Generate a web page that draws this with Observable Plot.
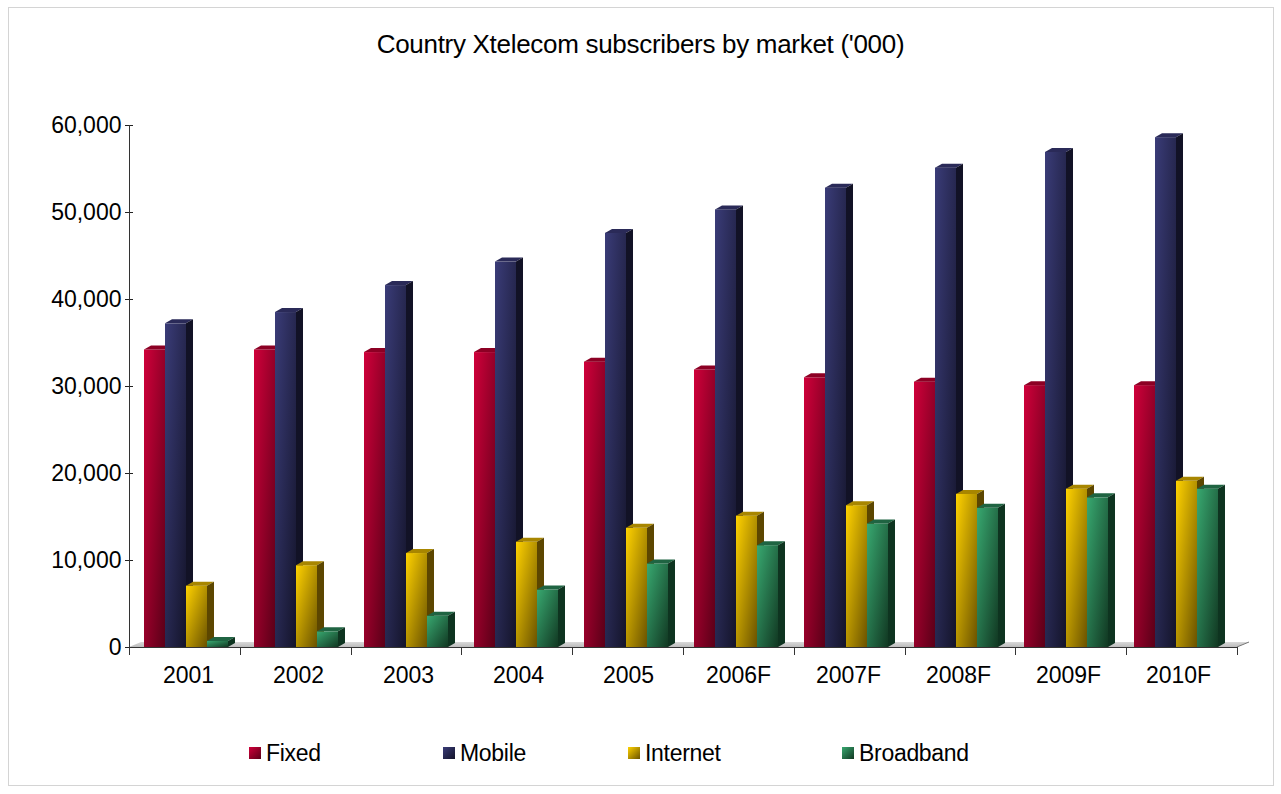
<!DOCTYPE html>
<html>
<head>
<meta charset="utf-8">
<script src="https://cdn.jsdelivr.net/npm/d3@7"></script>
<script src="https://cdn.jsdelivr.net/npm/@observablehq/plot@0.6"></script>
<style>
html,body{margin:0;padding:0;background:#fff;}
body{width:1281px;height:794px;position:relative;overflow:hidden;font-family:"Liberation Sans",Arial,sans-serif;color:#000;}
#frame{position:absolute;left:8px;top:7px;width:1266px;height:779px;border:1px solid #d4d4d4;box-sizing:border-box;}
#title{position:absolute;left:0;width:1281px;top:29px;text-align:center;font-size:26px;line-height:30px;letter-spacing:-0.3px;}
#chart{position:absolute;left:0;top:100px;}
#legend{position:absolute;top:739px;left:0;width:1281px;height:28px;font-size:23px;}
.item{position:absolute;top:0;height:28px;display:flex;align-items:center;white-space:nowrap;letter-spacing:-0.3px;}
.sw{width:12px;height:12px;margin-right:5px;}
</style>
</head>
<body>
<div id="frame"></div>
<div id="title">Country Xtelecom subscribers by market ('000)</div>
<div id="chart"></div>
<div id="legend"></div>
<script>
// ---- data ----
const years = ["2001","2002","2003","2004","2005","2006F","2007F","2008F","2009F","2010F"];
const series = ["Fixed","Mobile","Internet","Broadband"];
const fixed     = [34200,34200,33900,33900,32800,31900,31000,30500,30100,30100];
const mobile    = [37200,38500,41600,44300,47600,50300,52800,55100,56900,58600];
const internet  = [7050,9400,10800,12100,13700,15100,16300,17600,18200,19100];
const broadband = [700,1800,3600,6600,9600,11700,14200,16000,17200,18200];
const yTicks = [0,10000,20000,30000,40000,50000,60000];

// ---- styles ----
const frontLight = ["#d0003a","#3a3c78","#ffd200","#38a870"];
const frontDark  = ["#5a0018","#14142a","#6a5200","#113822"];
const topColor   = ["#8c0024","#2a2a58","#a88600","#1f6442"];
const sideColor  = ["#520016","#121226","#5c4600","#0e3420"];
const legendX = [249,443,628,842];

const valuesBySeries = [fixed, mobile, internet, broadband];
const data = [];
years.forEach((yr, i) => {
  series.forEach((s, j) => data.push({year: yr, series: s, value: valuesBySeries[j][i]}));
});

const W = 1281, H = 600, ML = 129;
const chart = Plot.plot({
  width: W, height: H,
  marginLeft: ML, marginRight: 44, marginTop: 25, marginBottom: 53,
  style: {fontFamily: '"Liberation Sans", Arial, sans-serif', fontSize: "23px", background: "transparent", color: "#000"},
  fx: {domain: years, padding: 0, label: null},
  x: {domain: series, range: [ML + 9, ML + 96], padding: 0, axis: null},
  y: {domain: [0, 60000], axis: null},
  color: {domain: series, range: series.map((d, i) => `url(#grad-${i})`)},
  marks: [
    Plot.barY(data, {fx: "year", x: "series", y: "value", fill: "series", inset: 0}),
    Plot.axisY({ticks: yTicks, tickFormat: d3.format(","), tickSize: 8, tickPadding: 4, fontSize: 23, stroke: "#222", label: null}),
    Plot.axisFx({anchor: "bottom", tickSize: 0, tickPadding: 19, fontSize: 23, label: null})
  ]
});
document.getElementById("chart").appendChild(chart);

// ---- 3D decoration derived from Plot's scales ----
const svg = d3.select(chart);
const defs = svg.insert("defs", ":first-child");
series.forEach((s, i) => {
  const g = defs.append("linearGradient").attr("id", `grad-${i}`)
    .attr("x1", 0).attr("y1", 0).attr("x2", 1).attr("y2", 1);
  g.append("stop").attr("offset", 0).attr("stop-color", frontLight[i]);
  g.append("stop").attr("offset", 1).attr("stop-color", frontDark[i]);
});
const fg = defs.append("linearGradient").attr("id", "floor").attr("x1", 0).attr("y1", 0).attr("x2", 0).attr("y2", 1);
fg.append("stop").attr("offset", 0).attr("stop-color", "#d8d8d8");
fg.append("stop").attr("offset", 1).attr("stop-color", "#bcbcbc");

const fxS = chart.scale("fx"), yS = chart.scale("y");
const fxB = d3.scaleBand().domain(fxS.domain).range(fxS.range).padding(0);
const yL = d3.scaleLinear().domain(yS.domain).range(yS.range);
const x0 = fxS.range[0], x1 = fxS.range[1], y0 = yL(0), yTop = yL(60000);
const DX = 7, DY = 4;

// floor behind bars
svg.insert("polygon", "defs + *")
  .attr("points", `${x0},${y0} ${x1},${y0} ${x1 + 12},${y0 - 5} ${x0 + 12},${y0 - 5}`)
  .attr("fill", "url(#floor)");
svg.append("line").attr("x1", x1).attr("y1", y0).attr("x2", x1 + 12).attr("y2", y0 - 5).attr("stroke", "#777");

// top & side faces, added right after each bar so that later bars cover them
const ns = "http://www.w3.org/2000/svg";
Array.from(chart.querySelectorAll("rect")).forEach(r => {
  const f = r.getAttribute("fill") || (r.parentNode && r.parentNode.getAttribute && r.parentNode.getAttribute("fill")) || "";
  const m = /grad-(\d)/.exec(f);
  if (!m) return;
  const i = +m[1];
  const bb = r.getBBox();
  const x = bb.x, y = bb.y, w = bb.width, h = bb.height;
  const tr = r.getAttribute("transform");
  const side = document.createElementNS(ns, "polygon");
  side.setAttribute("points", `${x + w},${y} ${x + w + DX},${y - DY} ${x + w + DX},${y + h - DY} ${x + w},${y + h}`);
  side.setAttribute("fill", sideColor[i]);
  const top = document.createElementNS(ns, "polygon");
  top.setAttribute("points", `${x},${y} ${x + DX},${y - DY} ${x + w + DX},${y - DY} ${x + w},${y}`);
  top.setAttribute("fill", topColor[i]);
  if (tr) { side.setAttribute("transform", tr); top.setAttribute("transform", tr); }
  r.parentNode.insertBefore(side, r.nextSibling);
  r.parentNode.insertBefore(top, r.nextSibling);
});

// axis lines and category boundary ticks
svg.append("line").attr("x1", x0 + 0.5).attr("x2", x0 + 0.5).attr("y1", yTop).attr("y2", y0 + 1).attr("stroke", "#333");
svg.append("line").attr("x1", x0).attr("x2", x1).attr("y1", y0 + 0.5).attr("y2", y0 + 0.5).attr("stroke", "#333");
const bounds = years.map(d => fxB(d)).concat([x1]);
svg.selectAll("line.bt").data(bounds).join("line").attr("class", "bt")
  .attr("x1", d => Math.round(d) + 0.5).attr("x2", d => Math.round(d) + 0.5)
  .attr("y1", y0).attr("y2", y0 + 8).attr("stroke", "#333");

// legend
const leg = d3.select("#legend");
series.forEach((s, i) => {
  const it = leg.append("div").attr("class", "item").style("left", legendX[i] + "px");
  it.append("div").attr("class", "sw").style("background", `linear-gradient(135deg, ${frontLight[i]}, ${frontDark[i]})`);
  it.append("span").text(s);
});
</script>
</body>
</html>
